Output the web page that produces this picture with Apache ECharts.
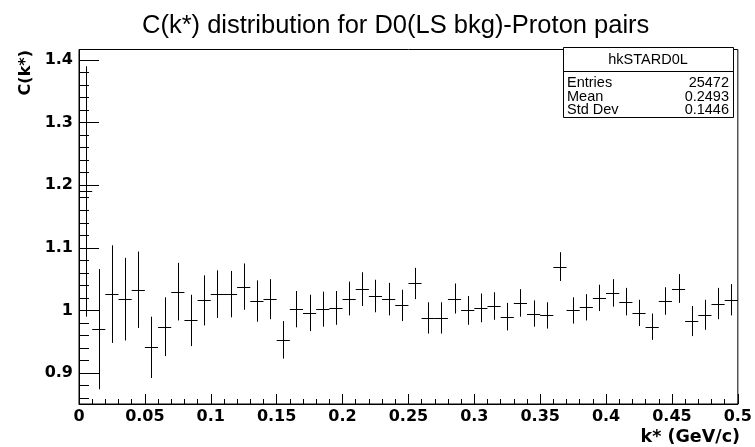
<!DOCTYPE html>
<html>
<head>
<meta charset="utf-8">
<script src="https://cdn.jsdelivr.net/npm/echarts@6/dist/echarts.min.js"></script>
<style>
html,body{margin:0;padding:0;background:#fff;}
#chart{width:755px;height:447px;}
</style>
</head>
<body>
<div id="chart"></div>
<script>
// Bin centers k* (GeV/c)
const binCenters = [0.005,0.015,0.025,0.035,0.045,0.055,0.065,0.075,0.085,0.095,
  0.105,0.115,0.125,0.135,0.145,0.155,0.165,0.175,0.185,0.195,
  0.205,0.215,0.225,0.235,0.245,0.255,0.265,0.275,0.285,0.295,
  0.305,0.315,0.325,0.335,0.345,0.355,0.365,0.375,0.385,0.395,
  0.405,0.415,0.425,0.435,0.445,0.455,0.465,0.475,0.485,0.495];
const binWidth = 0.01;
// C(k*) values
const cValues = [1.19,0.970,1.026,1.018,1.033,0.941,0.974,1.030,0.984,1.016,
  1.026,1.026,1.038,1.015,1.018,0.953,1.002,0.996,1.002,1.004,
  1.019,1.034,1.023,1.018,1.008,1.043,0.988,0.988,1.019,1.000,
  1.004,1.007,0.990,1.012,0.995,0.992,1.070,1.000,1.005,1.020,
  1.028,1.014,0.996,0.974,1.015,1.035,0.983,0.993,1.011,1.017];
// statistical errors
const cErrors = [0.200,0.096,0.078,0.066,0.061,0.049,0.047,0.046,0.041,0.040,
  0.038,0.037,0.037,0.033,0.032,0.030,0.029,0.029,0.028,0.027,
  0.027,0.027,0.026,0.026,0.025,0.025,0.025,0.025,0.024,0.023,
  0.023,0.022,0.022,0.022,0.021,0.021,0.023,0.021,0.021,0.021,
  0.022,0.022,0.021,0.021,0.022,0.023,0.024,0.024,0.025,0.025];
// axis ticks
const yMajorTicks = [0.9,1.0,1.1,1.2,1.3,1.4];
const yMinorTicks = [0.86,0.88,0.92,0.94,0.96,0.98,1.02,1.04,1.06,1.08,1.12,1.14,1.16,1.18,
  1.22,1.24,1.26,1.28,1.32,1.34,1.36,1.38];
const yRange = [0.8505, 1.4168];
const xRange = [0, 0.5];
const statsLabels = ['Entries','Mean','Std Dev'];
const statsValues = ['25472','0.2493','0.1446'];
const histName = 'hkSTARD0L';
const titleText = 'C(k*) distribution for D0(LS bkg)-Proton pairs';

const chart = echarts.init(document.getElementById('chart'), null, {renderer:'canvas'});
const data = binCenters.map((k,i)=>[k, cValues[i], cErrors[i]]);
const snap = v => Math.round(v) + 0.5;
const tickFont = {fontFamily:'DejaVu Sans', fontWeight:'bold', fontSize:16, color:'#000'};
const statFont = '14.5px "Liberation Sans"';

const statsChildren = [
  {type:'rect', shape:{x:563.5,y:47.5,width:170,height:70}, style:{fill:'#fff', stroke:'#000', lineWidth:1}},
  {type:'line', shape:{x1:563.5,y1:71.5,x2:733.5,y2:71.5}, style:{stroke:'#000', lineWidth:1}},
  {type:'text', x:648, y:59.5, style:{text:histName, font:statFont, fill:'#000', align:'center', verticalAlign:'middle'}}
];
statsLabels.forEach((lab,i)=>{
  statsChildren.push({type:'text', x:567, y:83+i*13.5, style:{text:lab, font:statFont, fill:'#000', align:'left', verticalAlign:'middle'}});
  statsChildren.push({type:'text', x:729, y:83+i*13.5, style:{text:statsValues[i], font:statFont, fill:'#000', align:'right', verticalAlign:'middle'}});
});

chart.setOption({
  animation:false,
  backgroundColor:'#fff',
  title:{text:titleText, left:137, top:8, textStyle:{fontFamily:'Liberation Sans', fontWeight:'normal', fontSize:25.5, color:'#000'}},
  grid:{left:79, top:49.5, right:15, bottom:43, show:true, borderColor:'#000', borderWidth:1, backgroundColor:'transparent', containLabel:false},
  xAxis:{type:'value', min:xRange[0], max:xRange[1], interval:0.05,
    axisLine:{show:true, onZero:false, lineStyle:{color:'#000', width:1}},
    axisTick:{show:true, inside:true, length:10, lineStyle:{color:'#000', width:1}},
    minorTick:{show:true, splitNumber:5, length:5, lineStyle:{color:'#000', width:1}},
    splitLine:{show:false},
    axisLabel:{...tickFont, margin:5, showMinLabel:true, showMaxLabel:true}},
  yAxis:[
    {type:'value', min:yRange[0], max:yRange[1],
      axisLine:{show:true, onZero:false, lineStyle:{color:'#000', width:1}},
      axisTick:{show:true, inside:true, length:20, customValues:yMajorTicks, lineStyle:{color:'#000', width:1}},
      splitLine:{show:false},
      axisLabel:{...tickFont, margin:6, customValues:yMajorTicks}},
    {type:'value', min:yRange[0], max:yRange[1], position:'left',
      axisLine:{show:false},
      axisTick:{show:true, inside:true, length:10, customValues:yMinorTicks, lineStyle:{color:'#000', width:1}},
      splitLine:{show:false},
      axisLabel:{show:false}}
  ],
  graphic:[
    {type:'text', x:740, y:437, style:{text:'k* (GeV/c)', font:'bold 17.5px "DejaVu Sans"', fill:'#000', align:'right', verticalAlign:'middle'}},
    {type:'text', x:26, y:50, rotation:Math.PI/2, style:{text:'C(k*)', font:'bold 16px "DejaVu Sans"', fill:'#000', align:'right', verticalAlign:'middle'}},
    {type:'group', children:statsChildren}
  ],
  series:[{
    type:'custom',
    coordinateSystem:'cartesian2d',
    data:data,
    clip:true,
    renderItem:function(params, api){
      const x = api.value(0), y = api.value(1), e = api.value(2);
      const pL = api.coord([x - binWidth/2, y]);
      const pR = api.coord([x + binWidth/2, y]);
      const pT = api.coord([x, y + e]);
      const pB = api.coord([x, y - e]);
      return {type:'group', children:[
        {type:'line', shape:{x1:pL[0], y1:snap(pL[1]), x2:pR[0], y2:snap(pR[1])}, style:{stroke:'#000', lineWidth:1}},
        {type:'line', shape:{x1:snap(pT[0]), y1:pT[1], x2:snap(pB[0]), y2:pB[1]}, style:{stroke:'#000', lineWidth:1}}
      ]};
    }
  }]
});
</script>
</body>
</html>
